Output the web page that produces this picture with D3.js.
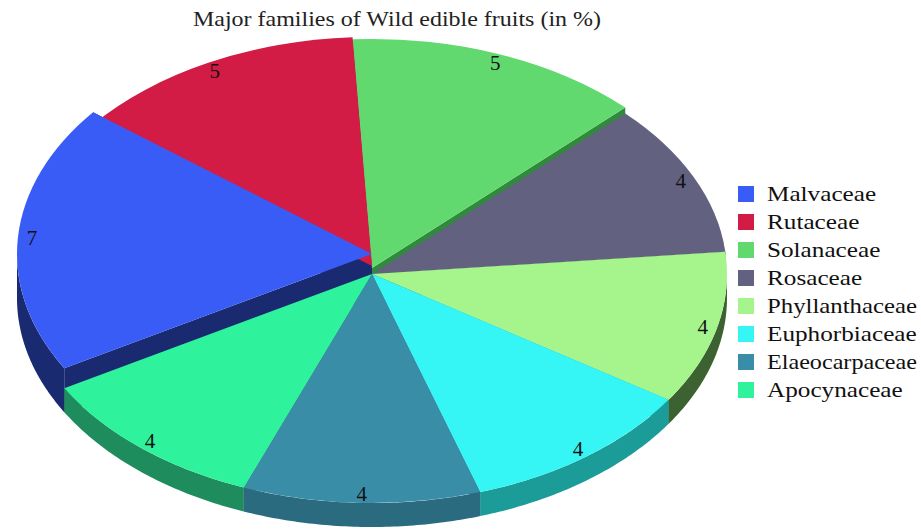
<!DOCTYPE html>
<html>
<head>
<meta charset="utf-8">
<script src="https://cdn.jsdelivr.net/npm/d3@7"></script>
<style>
  html, body { margin: 0; padding: 0; background: #ffffff; }
  svg { display: block; }
  text { font-family: 'Liberation Serif', 'Times New Roman', 'DejaVu Serif', serif; }
</style>
</head>
<body>
<svg id="chart" width="921" height="529"></svg>
<script>
// ---- data ----
const categories = ["Malvaceae", "Rutaceae", "Solanaceae", "Rosaceae", "Phyllanthaceae", "Euphorbiaceae", "Elaeocarpaceae", "Apocynaceae"];
const legendLabels = ["Malvaceae", "Rutaceae", "Solanaceae", "Rosaceae", "Phyllanthaceae", "Euphorbiaceae", "Elaeocarpaceae", "Apocynaceae"];
const values = [7, 5, 5, 4, 4, 4, 4, 4];
const title = "Major families of Wild edible fruits (in %)";

// ---- styles ----
const topColors  = ["#3a5cf6", "#d21b45", "#62d96f", "#62617f", "#a5f58c", "#35f6f4", "#3a8da6", "#2ef39c"];
const wallColors = ["#1a2a70", "#8a1230", "#2f8b3b", "#3e3d55", "#3d6232", "#1b9c99", "#2a6b80", "#1f8c5e"];
const lifts      = [20, 8, 6, 0, 0, 0, 0, 0];

const W = 921, H = 529;
const cx = 372, cy = 274, rx = 355, ry = 229, depth = 24;
const k = ry / rx;
const svg = d3.select("#chart");

const a0 = 240.1 * Math.PI / 180;
const pie = d3.pie().sort(null).value(d => d.value).startAngle(a0).endAngle(a0 + 2 * Math.PI);
const data = categories.map((c, i) => ({ name: c, value: values[i], i }));
const arcs = pie(data);
const byLift = arcs.slice().sort((p, q) => lifts[p.data.i] - lifts[q.data.i]);

const pt = (t, off) => [cx + rx * Math.sin(t), cy + off - ry * Math.cos(t)];
const line = d3.line();

// radial walls (lower slices first)
const gRad = svg.append("g");
byLift.forEach(a => {
  const lift = lifts[a.data.i];
  [a.startAngle, a.endAngle].forEach(t => {
    const p = [[cx, cy - lift], pt(t, -lift), pt(t, depth), [cx, cy + depth]];
    gRad.append("path").attr("d", line(p) + "Z").attr("fill", wallColors[a.data.i]);
  });
});

// outer (front) walls
const gOut = svg.append("g");
arcs.forEach(a => {
  const lift = lifts[a.data.i];
  [[Math.PI / 2, 1.5 * Math.PI], [2.5 * Math.PI, 3.5 * Math.PI]].forEach(([f0, f1]) => {
    const lo = Math.max(a.startAngle, f0), hi = Math.min(a.endAngle, f1);
    if (hi <= lo) return;
    const n = 60;
    const ts = d3.range(n + 1).map(j => lo + (hi - lo) * j / n);
    const topPts = ts.map(t => pt(t, -lift));
    const botPts = ts.slice().reverse().map(t => pt(t, depth));
    gOut.append("path").attr("d", line(topPts.concat(botPts)) + "Z").attr("fill", wallColors[a.data.i]);
  });
});

// top faces (lower lift first)
const arcGen = d3.arc().innerRadius(0).outerRadius(rx);
const gTop = svg.append("g");
byLift.forEach(a => {
  const lift = lifts[a.data.i];
  gTop.append("path")
    .attr("transform", `translate(${cx},${cy - lift}) scale(1,${k})`)
    .attr("d", arcGen(a))
    .attr("fill", topColors[a.data.i]);
});

// value labels
const gLab = svg.append("g");
arcs.forEach(a => {
  const lift = lifts[a.data.i];
  const m = (a.startAngle + a.endAngle) / 2;
  gLab.append("text")
    .attr("x", cx + rx * 0.96 * Math.sin(m))
    .attr("y", cy - lift - ry * 0.96 * Math.cos(m))
    .attr("text-anchor", "middle")
    .attr("dominant-baseline", "central")
    .attr("font-size", 21)
    .attr("fill", "#111")
    .text(a.data.value);
});

// title
svg.append("text")
  .attr("x", 397).attr("y", 19)
  .attr("text-anchor", "middle")
  .attr("dominant-baseline", "central")
  .attr("font-size", 21)
  .attr("fill", "#222")
  .attr("textLength", 408)
  .attr("lengthAdjust", "spacingAndGlyphs")
  .text(title);

// legend
const gLeg = svg.append("g");
legendLabels.forEach((lab, i) => {
  const y = 194 + i * 28;
  gLeg.append("rect").attr("x", 738).attr("y", y - 8).attr("width", 16).attr("height", 16).attr("fill", topColors[i]);
  const tx = gLeg.append("text")
    .attr("x", 767).attr("y", y)
    .attr("dominant-baseline", "central")
    .attr("font-size", 21)
    .attr("fill", "#111")
    .text(lab);
  const L = tx.node().getComputedTextLength();
  tx.attr("textLength", Math.min(L * 1.2, 150)).attr("lengthAdjust", "spacingAndGlyphs");
});
</script>
</body>
</html>
